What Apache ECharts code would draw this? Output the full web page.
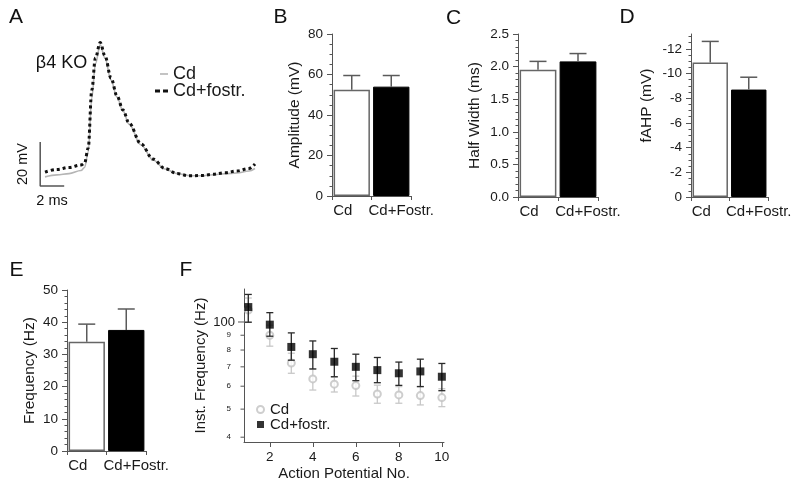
<!DOCTYPE html>
<html><head><meta charset="utf-8">
<script src="https://cdn.jsdelivr.net/npm/echarts@6/dist/echarts.min.js"></script>
<style>html,body{margin:0;padding:0;background:#fff}#c{width:800px;height:484px}</style>
</head><body><div id="c"></div>
<script>
// ---------- DATA ----------
// Panel A: action potential traces (ms, mV)
const traceTime  = [0,1,2,3,3.3,3.6,3.9,4.2,4.6,5.0,5.5,6,6.5,7,8,9,10,11,12,13,14,15,16,17,17.5];
const traceCd    = [-69.5,-68.6,-68.0,-66.6,-65.2,-58.2,-33.6,-18.2,-9.5,-15.5,-25.5,-33.2,-39.5,-45.5,-55.0,-61.8,-65.9,-68.0,-68.9,-69.0,-68.5,-68.1,-67.7,-66.8,-65.7];
const traceFostr = [-67.3,-66.1,-65.2,-64.1,-63.2,-56.4,-30.0,-15.5,-8.4,-14.5,-24.5,-32.7,-39.1,-45.0,-54.5,-61.4,-65.7,-68.0,-69.0,-68.9,-68.3,-67.6,-66.8,-65.7,-63.6];
const scaleBarOrigin = [-0.4, -73.6];
const scaleBarMs = 2, scaleBarMv = 20;
const traceNames = ['Cd', 'Cd+fostr.'];

// Bar panels
const barCats = ['Cd', 'Cd+Fostr.'];
const ampMean = [52.5, 54.0],  ampErrTop = [59.5, 59.5];
const hwMean  = [1.95, 2.08],  hwErrTop  = [2.08, 2.20];
const fahpMean = [-10.9, -8.7], fahpErrTop = [-12.6, -9.7];
const freqMean = [33.9, 37.6], freqErrTop = [39.4, 44.1];
const fahpTicks = [0,-2,-4,-6,-8,-10,-12];
const fahpMinorTicks = [-0.5,-1,-1.5,-2.5,-3,-3.5,-4.5,-5,-5.5,-6.5,-7,-7.5,-8.5,-9,-9.5,-10.5,-11,-11.5,-12.5,-13];

// Panel F: instantaneous frequency (Hz)
const apNo = [1,2,3,4,5,6,7,8,9,10];
const cdFreq  = [110, 90.0, 72.1, 63.6, 61.0, 60.3, 56.4, 56.0, 55.7, 54.8];
const cdLow   = [100, 82.5, 66.5, 58.2, 57.3, 55.5, 52.4, 52.4, 51.7, 51.0];
const cdHigh  = [121, 97.5, 78.0, 69.0, 64.5, 65.0, 60.5, 59.8, 60.0, 58.8];
const fostrFreq = [112.6, 97.9, 82.0, 77.4, 72.9, 70.0, 68.2, 66.5, 67.5, 64.7];
const fostrLow  = [99.8, 89.3, 73.8, 68.8, 64.7, 62.7, 61.7, 60.4, 59.8, 57.9];
const fostrHigh = [124.5, 107.7, 91.7, 86.0, 81.0, 77.4, 75.4, 72.7, 74.4, 71.9];
const fYTicks = [40,50,60,70,80,90,100];
const fYTickLabels = ['4','5','6','7','8','9','100'];
const fXTicks = [2,4,6,8,10];
const fLegend = ['Cd', 'Cd+fostr.'];

// ---------- CHART ----------
const FF = '"Liberation Sans", Arial, Helvetica, sans-serif';
const AX = '#555', TX = '#1a1a1a';
const chart = echarts.init(document.getElementById('c'), null, {renderer:'canvas'});

const axisLine = {show:true, onZero:false, lineStyle:{color:AX, width:1}};

function barYAxis(gi, o){
  return Object.assign({
    type:'value', gridIndex:gi, nameLocation:'middle',
    nameTextStyle:{fontSize:15.5, color:TX, fontFamily:FF},
    axisLine, axisTick:{show:true, length:5, lineStyle:{color:AX}},
    minorTick:{show:true, length:2.5, lineStyle:{color:AX}},
    axisLabel:{fontSize:13.5, color:TX, margin:9, fontFamily:FF},
    splitLine:{show:false}, minorSplitLine:{show:false}
  }, o);
}
function barXAxis(gi){
  return {
    type:'category', gridIndex:gi, data:barCats, boundaryGap:true,
    axisLine, axisTick:{show:true, length:4, alignWithLabel:false, lineStyle:{color:AX}},
    axisLabel:{interval:0, margin:7,
      formatter:(v,i)=> i===0 ? '{l|'+v+'}' : '{r|'+v+'}',
      rich:{ l:{fontSize:15, color:TX, fontFamily:FF, padding:[0,18,0,0]},
             r:{fontSize:15, color:TX, fontFamily:FF, padding:[0,0,0,20]} } },
    splitLine:{show:false}
  };
}
function barSeries(gi, vals){
  return {type:'bar', xAxisIndex:gi, yAxisIndex:gi, barCategoryGap:'8%',
    data: vals.map((v,i)=>({value:v, itemStyle: i===0
      ? {color:'#fff', borderColor:'#666', borderWidth:1.5}
      : {color:'#000', borderColor:'#000', borderWidth:1}})),
    silent:true, z:2};
}
function errSeries(gi, vals, tops){
  return {type:'custom', xAxisIndex:gi, yAxisIndex:gi, z:3, silent:true, clip:false,
    data: vals.map((v,i)=>[i, v, tops[i]]),
    renderItem:(params, api)=>{
      const b = api.coord([api.value(0), api.value(1)]);
      const t = api.coord([api.value(0), api.value(2)]);
      const s = {stroke:'#5a5a5a', lineWidth:1.5};
      return {type:'group', children:[
        {type:'line', shape:{x1:b[0], y1:b[1], x2:t[0], y2:t[1]}, style:s},
        {type:'line', shape:{x1:t[0]-8.5, y1:t[1], x2:t[0]+8.5, y2:t[1]}, style:s}
      ]};
    }};
}
function rangeSeries(name, lows, highs, color, z){
  return {type:'custom', name, xAxisIndex:5, yAxisIndex:5, z, silent:true, clip:false,
    data: apNo.map((x,i)=>[x, lows[i], highs[i]]),
    renderItem:(params, api)=>{
      const lo = api.coord([api.value(0), api.value(1)]);
      const hi = api.coord([api.value(0), api.value(2)]);
      const s = {stroke:color, lineWidth:1.3};
      return {type:'group', children:[
        {type:'line', shape:{x1:lo[0], y1:lo[1], x2:hi[0], y2:hi[1]}, style:s},
        {type:'line', shape:{x1:lo[0]-3.5, y1:lo[1], x2:lo[0]+3.5, y2:lo[1]}, style:s},
        {type:'line', shape:{x1:hi[0]-3.5, y1:hi[1], x2:hi[0]+3.5, y2:hi[1]}, style:s}
      ]};
    }};
}
function gtext(t, x, y, size, extra){
  return Object.assign({type:'text', x, y, style:{text:t, fontSize:size, fontFamily:FF, fill:'#111', align:'center', verticalAlign:'middle'}}, extra||{});
}

const legendTextA = {fontSize:18, color:TX, fontFamily:FF, lineHeight:18};
const sb = scaleBarOrigin;
const option = {
  animation:false,
  textStyle:{fontFamily:FF},
  grid:[
    {left:33,  top:24,  width:228, height:176},
    {left:332, top:34,  width:79,  height:162},
    {left:518, top:34,  width:80,  height:163},
    {left:691, top:34,  width:77,  height:163},
    {left:67,  top:290, width:79,  height:161},
    {left:244, top:289, width:200, height:153}
  ],
  xAxis:[
    {type:'value', gridIndex:0, min:-1, max:18, show:false},
    barXAxis(1), barXAxis(2), barXAxis(3), barXAxis(4),
    {type:'value', gridIndex:5, min:0.8, max:10.1, name:'Action Potential No.', nameLocation:'middle', nameGap:24,
     nameTextStyle:{fontSize:15, color:TX, fontFamily:FF},
     axisLine, axisTick:{show:true, length:5, customValues:fXTicks, lineStyle:{color:AX}},
     axisLabel:{customValues:fXTicks, fontSize:13.5, color:TX, margin:8, fontFamily:FF},
     splitLine:{show:false}}
  ],
  yAxis:[
    {type:'value', gridIndex:0, min:-80, max:0, show:false},
    barYAxis(1, {min:0, max:80, interval:20, name:'Amplitude (mV)', nameGap:29, minorTick:{show:true, splitNumber:4, length:2.5, lineStyle:{color:AX}}}),
    barYAxis(2, {min:0, max:2.5, interval:0.5, name:'Half Width (ms)', nameGap:35,
      minorTick:{show:true, splitNumber:5, length:2.5, lineStyle:{color:AX}},
      axisLabel:{fontSize:13.5, color:TX, margin:9, fontFamily:FF, formatter:v=>v.toFixed(1)}}),
    barYAxis(3, {min:-13.2, max:0, inverse:true, name:'fAHP (mV)', nameGap:36,
      nameTextStyle:{fontSize:15.5, color:TX, fontFamily:FF, padding:[0,0,0,20]},
      minorTick:{show:false},
      axisTick:{show:true, length:5, customValues:fahpTicks, lineStyle:{color:AX}},
      axisLabel:{customValues:fahpTicks, fontSize:13.5, color:TX, margin:9, fontFamily:FF}}),
    barYAxis(4, {min:0, max:50, interval:10, name:'Frequency (Hz)', nameGap:29, minorTick:{show:true, splitNumber:5, length:2.5, lineStyle:{color:AX}}}),
    {type:'log', gridIndex:5, logBase:10, min:38.5, max:130, name:'Inst. Frequency (Hz)', nameLocation:'middle', nameGap:36,
     nameTextStyle:{fontSize:15, color:TX, fontFamily:FF},
     axisLine, axisTick:{show:false}, axisLabel:{show:false}, splitLine:{show:false}, minorTick:{show:false}},
    {type:'value', gridIndex:3, position:'left', offset:0, min:-13.2, max:0, inverse:true,
     axisLine:{show:false}, axisLabel:{show:false, customValues:fahpMinorTicks},
     axisTick:{show:true, length:2.5, customValues:fahpMinorTicks, lineStyle:{color:AX}},
     splitLine:{show:false}}
  ],
  legend:[
    {left:160, top:65, padding:0, orient:'vertical', itemWidth:8, itemHeight:1.6,
     data:[{name:'A:'+traceNames[0], icon:'rect'}], formatter:n=>n.slice(2),
     itemStyle:{color:'#b5b5b5'}, textStyle:legendTextA, selectedMode:false},
    {left:155, top:82, padding:0, orient:'vertical', itemWidth:13, itemHeight:3,
     data:[{name:'A:'+traceNames[1], icon:'path://M0,0h5v3h-5zM8,0h5v3h-5z'}], formatter:n=>n.slice(2),
     itemStyle:{color:'#111'}, textStyle:legendTextA, selectedMode:false},
    {left:256, top:402, padding:0, orient:'vertical', itemGap:0, itemWidth:7, itemHeight:7,
     data:fLegend.map(n=>'F:'+n), formatter:n=>n.slice(2),
     textStyle:{fontSize:15, color:TX, fontFamily:FF, lineHeight:15, padding:[0,0,0,1]}, selectedMode:false}
  ],
  series:[
    {type:'line', name:'A:'+traceNames[0], xAxisIndex:0, yAxisIndex:0, symbol:'none', smooth:0.35, smoothMonotone:'x',
     data:traceTime.map((t,i)=>[t, traceCd[i]]), lineStyle:{color:'#b5b5b5', width:1.6}, itemStyle:{color:'#b5b5b5'}, z:2},
    {type:'line', name:'A:'+traceNames[1], xAxisIndex:0, yAxisIndex:0, symbol:'none', smooth:0.35, smoothMonotone:'x',
     data:traceTime.map((t,i)=>[t, traceFostr[i]]), lineStyle:{color:'#111', width:3, type:[3,3]}, itemStyle:{color:'#111'}, z:3},
    {type:'line', name:'scalebar', xAxisIndex:0, yAxisIndex:0, symbol:'none', silent:true,
     data:[[sb[0], sb[1]+scaleBarMv],[sb[0], sb[1]],[sb[0]+scaleBarMs, sb[1]]], lineStyle:{color:'#555', width:1.5}},
    barSeries(1, ampMean),  errSeries(1, ampMean, ampErrTop),
    barSeries(2, hwMean),   errSeries(2, hwMean, hwErrTop),
    barSeries(3, fahpMean), errSeries(3, fahpMean, fahpErrTop),
    barSeries(4, freqMean), errSeries(4, freqMean, freqErrTop),
    rangeSeries('errCd', cdLow, cdHigh, '#c8c8c8', 2),
    {type:'scatter', name:'F:'+fLegend[0], xAxisIndex:5, yAxisIndex:5, symbol:'emptyCircle', symbolSize:7,
     itemStyle:{color:'#c2c2c2', borderWidth:1.2}, data:apNo.map((x,i)=>[x, cdFreq[i]]), z:3},
    rangeSeries('errFostr', fostrLow, fostrHigh, '#2a2a2a', 4),
    {type:'scatter', name:'F:'+fLegend[1], xAxisIndex:5, yAxisIndex:5, symbol:'rect', symbolSize:8,
     itemStyle:{color:'#000'}, data:apNo.map((x,i)=>[x, fostrFreq[i]]), z:5},
    {type:'custom', name:'fYTicks', xAxisIndex:5, yAxisIndex:5, silent:true, clip:false, z:6,
     data: fYTicks.map(v=>[0.8, v]),
     renderItem:(params, api)=>{
       const p = api.coord([api.value(0), api.value(1)]);
       const i = params.dataIndex;
       const big = fYTickLabels[i].length > 1;
       return {type:'group', children:[
         {type:'line', shape:{x1:p[0]-(big?6:3.5), y1:p[1], x2:p[0], y2:p[1]}, style:{stroke:AX, lineWidth:1}},
         {type:'text', x:p[0]-(big?9:13), y:p[1], style:{text:fYTickLabels[i], align:'right', verticalAlign:'middle',
           fontSize: big?13:8, fontFamily:FF, fill:TX}}
       ]};
     }}
  ],
  graphic:[
    gtext('A', 16, 17.5, 21), gtext('B', 280.5, 17.5, 21), gtext('C', 453.5, 18, 21),
    gtext('D', 627, 17.5, 21), gtext('E', 16.5, 270, 21), gtext('F', 186, 270, 21),
    gtext('β4 KO', 61.5, 63.5, 18),
    gtext('20 mV', 22.5, 164, 14.5, {rotation:Math.PI/2}),
    gtext('2 ms', 52, 201, 14.5)
  ]
};
chart.setOption(option);
</script></body></html>
